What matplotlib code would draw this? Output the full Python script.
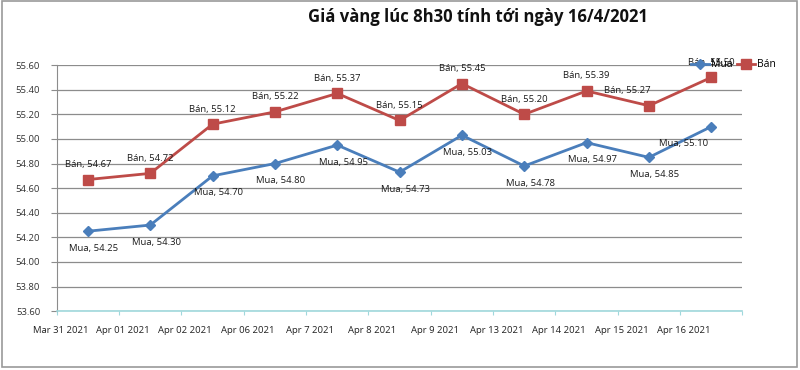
"""
Gold price at 8:30 up to 16/4/2021 (buy / sell), Excel-style line chart.
"""
import matplotlib
matplotlib.use('Agg')
import matplotlib.pyplot as plt
from matplotlib.patches import Rectangle

plt.rcParams['font.family'] = ['Open Sans', 'DejaVu Sans']

dates = ['Mar 31 2021', 'Apr 01 2021', 'Apr 02 2021', 'Apr 06 2021', 'Apr 7 2021',
         'Apr 8 2021', 'Apr 9 2021', 'Apr 13 2021', 'Apr 14 2021', 'Apr 15 2021',
         'Apr 16 2021']
mua = [54.25, 54.30, 54.70, 54.80, 54.95, 54.73, 55.03, 54.78, 54.97, 54.85, 55.10]
ban = [54.67, 54.72, 55.12, 55.22, 55.37, 55.15, 55.45, 55.20, 55.39, 55.27, 55.50]
y_ticks = [53.6, 53.8, 54.0, 54.2, 54.4, 54.6, 54.8, 55.0, 55.2, 55.4, 55.6]

BLUE = '#4a7ebb'
RED = '#be4b48'

fig = plt.figure(figsize=(8, 3.7), dpi=100)
ax = fig.add_axes([0.071, 0.159, 0.857, 0.665])

x = list(range(len(dates)))
ax.plot(x, mua, color=BLUE, lw=2, marker='D', ms=5, label='Mua', zorder=3)
ax.plot(x, ban, color=RED, lw=2, marker='s', ms=6.5, label='Bán', zorder=3)

# data labels: sell above, buy below
for i, v in enumerate(ban):
    dx = -22 if i == 9 else 0
    ax.annotate(f'Bán, {v:.2f}', (i, v), xytext=(dx, 15), textcoords='offset pixels',
                ha='center', va='center', fontsize=6.8, color='#1a1a1a')
for i, v in enumerate(mua):
    dx = -28 if i == 10 else 6
    ax.annotate(f'Mua, {v:.2f}', (i, v), xytext=(dx, -17), textcoords='offset pixels',
                ha='center', va='center', fontsize=6.8, color='#1a1a1a')

ax.set_xlim(-0.5, len(dates) - 0.5)
ax.set_ylim(53.6, 55.6)
ax.set_yticks(y_ticks)
ax.set_yticklabels([f'{t:.2f}' for t in y_ticks], fontsize=6.8, color='#333333')
ax.yaxis.grid(True, color='#8c8c8c', lw=0.9)
ax.set_axisbelow(True)

# category boundaries carry the ticks, labels sit just right of them
ax.set_xticks([i - 0.5 for i in x] + [len(dates) - 0.5])
ax.set_xticklabels([''] * (len(dates) + 1))
for i, d in enumerate(dates):
    ax.text(i - 0.44, -0.06, d, transform=ax.get_xaxis_transform(),
            ha='center', va='top', fontsize=6.8, color='#222222')
ax.tick_params(axis='x', length=3, color='#a0d8dc')
ax.tick_params(axis='y', length=4, color='#8c8c8c', pad=8)

for s in ['top', 'right']:
    ax.spines[s].set_visible(False)
ax.spines['left'].set_color('#8c8c8c')
ax.spines['bottom'].set_color('#a0d8dc')
ax.spines['bottom'].set_linewidth(1.2)

fig.text(0.597, 0.955, 'Giá vàng lúc 8h30 tính tới ngày 16/4/2021',
         ha='center', va='center', fontsize=12, fontweight='bold', color='#111111')

fig.legend(loc='center left', bbox_to_anchor=(0.862, 0.825), ncol=2, frameon=False,
           fontsize=7.5, handlelength=1.8, columnspacing=0.4, handletextpad=0.15,
           borderpad=0.1, borderaxespad=0)

fig.patches.append(Rectangle((0.003, 0.008), 0.993, 0.988, transform=fig.transFigure,
                             fill=False, ec='#9a9a9a', lw=1.2))

fig.savefig('out.png', dpi=100)
